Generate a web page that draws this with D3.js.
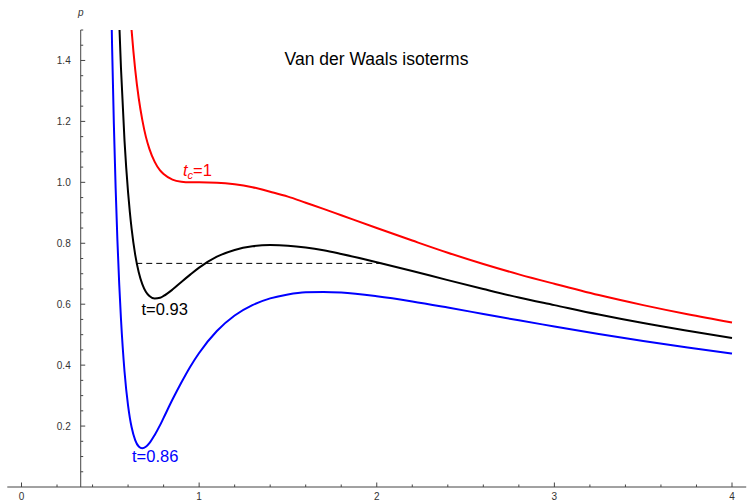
<!DOCTYPE html>
<html><head><meta charset="utf-8">
<script src="https://cdn.jsdelivr.net/npm/d3@7"></script>
<style>
html,body{margin:0;padding:0;background:#fff;}
svg{display:block;font-family:"Liberation Sans",Arial,sans-serif;}
</style></head>
<body><svg id="c" width="754" height="502"></svg>
<script>
// reduced volume samples
const vValues = [0.50,0.505,0.51,0.52,0.53,0.54,0.55,0.56,0.58,0.60,0.61,0.62,0.64,0.66,0.68,0.70,0.72,0.75,0.78,0.80,0.85,0.90,0.95,1.0,1.1,1.2,1.3,1.4,1.5,1.6,1.7,1.8,2.0,2.2,2.4,2.6,2.8,3.0,3.25,3.5,3.75,4.0];
// reduced pressure read from the isotherms
const pT086 = [1.760,1.596,1.447,1.191,0.981,0.809,0.668,0.552,0.379,0.267,0.227,0.196,0.154,0.133,0.127,0.132,0.144,0.171,0.203,0.227,0.287,0.343,0.395,0.440,0.512,0.563,0.597,0.619,0.632,0.639,0.640,0.638,0.626,0.609,0.589,0.568,0.547,0.527,0.502,0.479,0.458,0.438];
const pT093 = [2.880,2.683,2.504,2.191,1.930,1.712,1.529,1.375,1.136,0.967,0.902,0.847,0.763,0.705,0.666,0.641,0.627,0.619,0.621,0.627,0.648,0.673,0.697,0.720,0.756,0.778,0.790,0.794,0.792,0.786,0.777,0.765,0.738,0.709,0.679,0.650,0.622,0.597,0.566,0.538,0.513,0.489];
const pT100 = [4.000,3.770,3.560,3.191,2.879,2.615,2.391,2.199,1.893,1.667,1.576,1.498,1.371,1.276,1.205,1.150,1.110,1.067,1.039,1.027,1.009,1.002,1.000,1.000,0.999,0.994,0.984,0.969,0.953,0.933,0.913,0.892,0.850,0.809,0.769,0.732,0.698,0.667,0.630,0.597,0.567,0.540];
// Maxwell line for t=0.93
const maxwellV = [0.646, 2.045];
const maxwellP = [0.734, 0.734];
const xTicks = [0,1,2,3,4];
const yTicks = [0.2,0.4,0.6,0.8,1.0,1.2,1.4];
const xMinor = [0.2,0.4,0.6,0.8,1.2,1.4,1.6,1.8,2.2,2.4,2.6,2.8,3.2,3.4,3.6,3.8];
const yMinor = [0.05,0.1,0.15,0.25,0.3,0.35,0.45,0.5,0.55,0.65,0.7,0.75,0.85,0.9,0.95,1.05,1.1,1.15,1.25,1.3,1.35,1.45,1.5];
const series = [
  {p: pT100, color: "#ff0000"},
  {p: pT093, color: "#000000"},
  {p: pT086, color: "#0000ff"}
];

const svg = d3.select("#c");
const x = d3.scaleLinear().domain([0,4]).range([21.5,732]);
const y = d3.scaleLinear().domain([0,1.5]).range([487,30]);
const axisX = x(1/3);

svg.append("defs").append("clipPath").attr("id","clip")
  .append("rect").attr("x", x(-0.1)).attr("y", y(1.5)).attr("width", x(4.1)-x(-0.1)).attr("height", y(0)-y(1.5)+2);

// x axis
const gx = svg.append("g");
gx.append("line").attr("x1", x(-0.08)).attr("x2", x(4.08)).attr("y1", y(0)).attr("y2", y(0)).attr("stroke","#444").attr("stroke-width",1);
gx.selectAll("line.maj").data(xTicks).join("line").attr("class","maj")
  .attr("x1", d=>x(d)).attr("x2", d=>x(d)).attr("y1", y(0)).attr("y2", y(0)-4.5).attr("stroke","#444");
gx.selectAll("line.min").data(xMinor).join("line").attr("class","min")
  .attr("x1", d=>x(d)).attr("x2", d=>x(d)).attr("y1", y(0)).attr("y2", y(0)-2.5).attr("stroke","#444");
gx.selectAll("text").data(xTicks).join("text")
  .attr("x", d=>x(d)).attr("y", 500).attr("text-anchor","middle")
  .attr("font-size", 10).attr("fill","#333").text(d=>d);

// y axis
const gy = svg.append("g");
gy.append("line").attr("x1", axisX).attr("x2", axisX).attr("y1", y(0)).attr("y2", y(1.5)).attr("stroke","#444");
gy.selectAll("line.maj").data(yTicks).join("line").attr("class","maj")
  .attr("x1", axisX).attr("x2", axisX+4.5).attr("y1", d=>y(d)).attr("y2", d=>y(d)).attr("stroke","#444");
gy.selectAll("line.min").data(yMinor).join("line").attr("class","min")
  .attr("x1", axisX).attr("x2", axisX+2.5).attr("y1", d=>y(d)).attr("y2", d=>y(d)).attr("stroke","#444");
gy.selectAll("text").data(yTicks).join("text")
  .attr("x", axisX-10).attr("y", d=>y(d)).attr("dy","0.35em").attr("text-anchor","end")
  .attr("font-size", 10).attr("fill","#333").text(d=>d.toFixed(1));
svg.append("text").attr("x", axisX).attr("y", 16).attr("text-anchor","middle")
  .attr("font-size", 10).attr("font-style","italic").attr("fill","#333").text("p");

// curves
const line = d3.line().x(d=>x(d[0])).y(d=>y(d[1])).curve(d3.curveMonotoneX);
const gc = svg.append("g").attr("clip-path","url(#clip)");
series.forEach(s=>{
  gc.append("path").datum(vValues.map((v,i)=>[v, s.p[i]]))
    .attr("d", line).attr("fill","none").attr("stroke", s.color).attr("stroke-width", 2);
});
gc.append("path").datum(maxwellV.map((v,i)=>[v, maxwellP[i]]))
  .attr("d", d3.line().x(d=>x(d[0])).y(d=>y(d[1])))
  .attr("fill","none").attr("stroke","#000").attr("stroke-width",1).attr("stroke-dasharray","6,4");

// title and labels
svg.append("text").attr("x", 376.5).attr("y", 65).attr("text-anchor","middle")
  .attr("font-size", 17.5).attr("fill","#000").text("Van der Waals isoterms");
const tc = svg.append("text").attr("x", 183).attr("y", 176).attr("font-size", 16.5).attr("fill","#ff0000");
tc.append("tspan").attr("font-style","italic").text("t");
tc.append("tspan").attr("font-style","italic").attr("font-size", 11).attr("dy", 3).text("c");
tc.append("tspan").attr("dy", -3).text("=1");
svg.append("text").attr("x", 141.5).attr("y", 315).attr("font-size", 16.5).attr("fill","#000").text("t=0.93");
svg.append("text").attr("x", 132).attr("y", 462).attr("font-size", 16.5).attr("fill","#0000ff").text("t=0.86");
</script></body></html>
